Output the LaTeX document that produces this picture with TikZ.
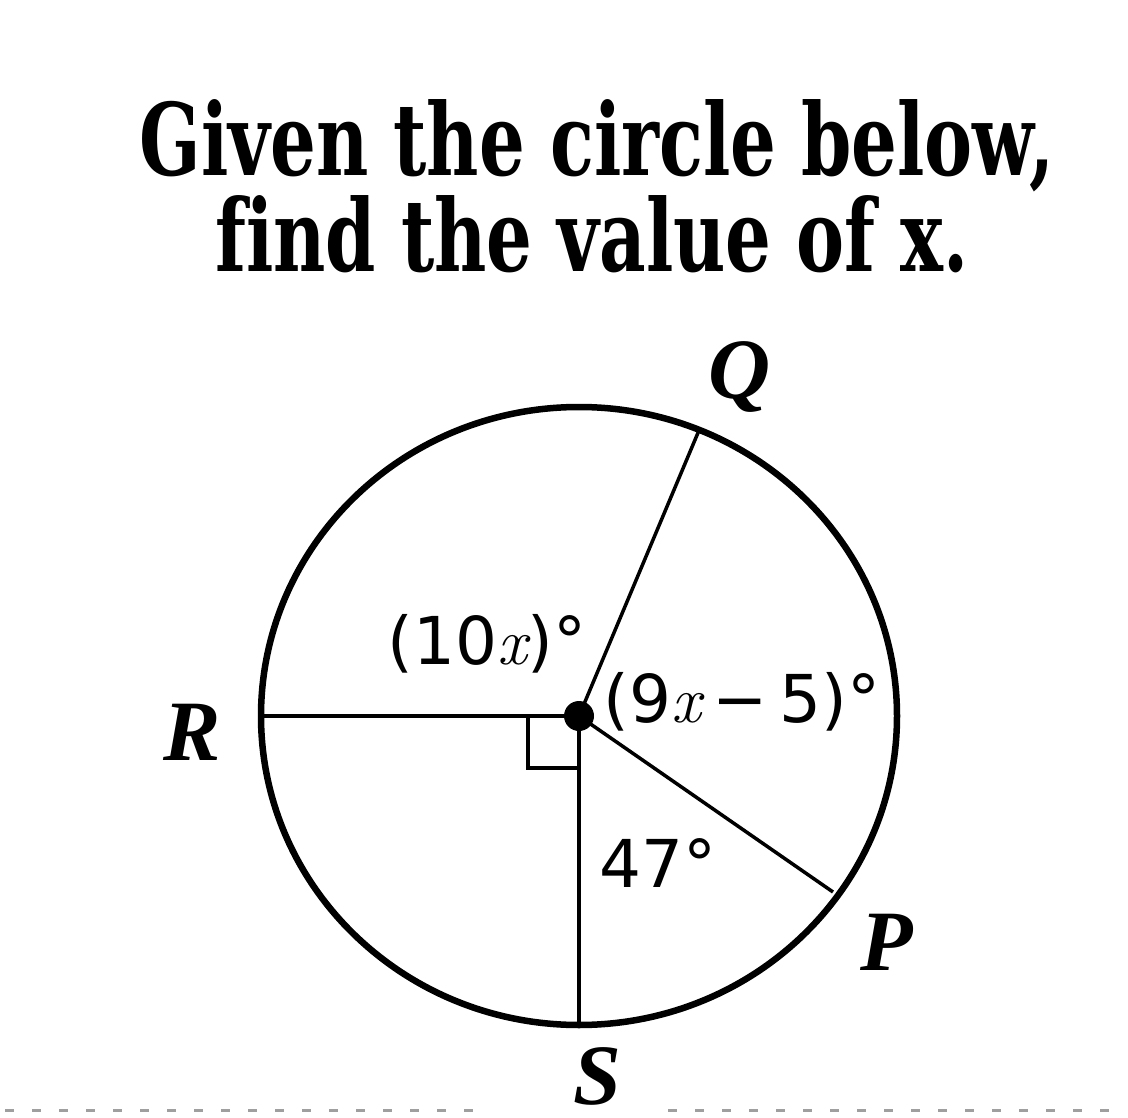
\documentclass[tikz,border=0pt]{standalone}
\usepackage{fontspec}
\newfontfamily\titlefont{DejaVu Serif}[FakeStretch=0.72, Ligatures=NoCommon]
\newfontfamily\labelfont{DejaVu Sans}
\newfontfamily\pointfont{Liberation Serif}

\begin{document}
\begin{tikzpicture}[x=1pt, y=-1pt,
	seg/.style={line width=3.5pt},
	ptlabel/.style={anchor=base, inner sep=0pt, font=\pointfont\fontsize{86}{86}\selectfont\bfseries\itshape},
	anglabel/.style={anchor=base, inner sep=0pt, font=\labelfont\fontsize{66}{66}\selectfont},
	titleline/.style={anchor=base, inner sep=0pt, font=\titlefont\fontsize{100}{100}\selectfont\bfseries},
	gapmark/.style={line width=3pt, gray!75}]
	\useasboundingbox (0,0) rectangle (1128,1118);
	%title
	\node[titleline] (title1) at (597,176) {Given the circle below,};
	\node[titleline] (title2) at (592,272) {find the value of x.};
	
	%circle
	\coordinate (O) at (579,716);
	\coordinate (Q) at (700,428);
	\coordinate (R) at (262,716);
	\coordinate (S) at (579,1025);
	\coordinate (P) at (833,892);
	\draw[line width=6.5pt] (O) ellipse [x radius=318, y radius=309];
	
	%radii
	\draw[seg] (O) -- (Q);
	\draw[seg] (O) -- (R);
	\draw[seg] (O) -- (S);
	\draw[seg] (O) -- (P);
	\draw[seg] ([xshift=-51pt]O) |- ([yshift=-52pt]O);
	\fill (O) circle [radius=15];
	
	%points
	\node[ptlabel] (labQ) at (740,398) {Q};
	\node[ptlabel] (labR) at (192,760) {R};
	\node[ptlabel] (labS) at (597,1104) {S};
	\node[ptlabel] (labP) at (887,970) {P};
	
	%angles
	\node[anglabel] (angRQ) at (487,664) {(10{\rmfamily\itshape x})°};
	\node[anglabel] (angQP) at (742,722) {(9{\rmfamily\itshape x}\hspace{0.18em}−\hspace{0.18em}5)°};
	\node[anglabel] (angPS) at (658,887) {47°};
	
	%dashes
	\foreach \i in {0,...,17}
	\draw[gapmark] ({5+27*\i},1110) -- ++(9,0);
	\foreach \i in {0,...,16}
	\draw[gapmark] ({668+27*\i},1110) -- ++(9,0);
\end{tikzpicture}
\end{document}
